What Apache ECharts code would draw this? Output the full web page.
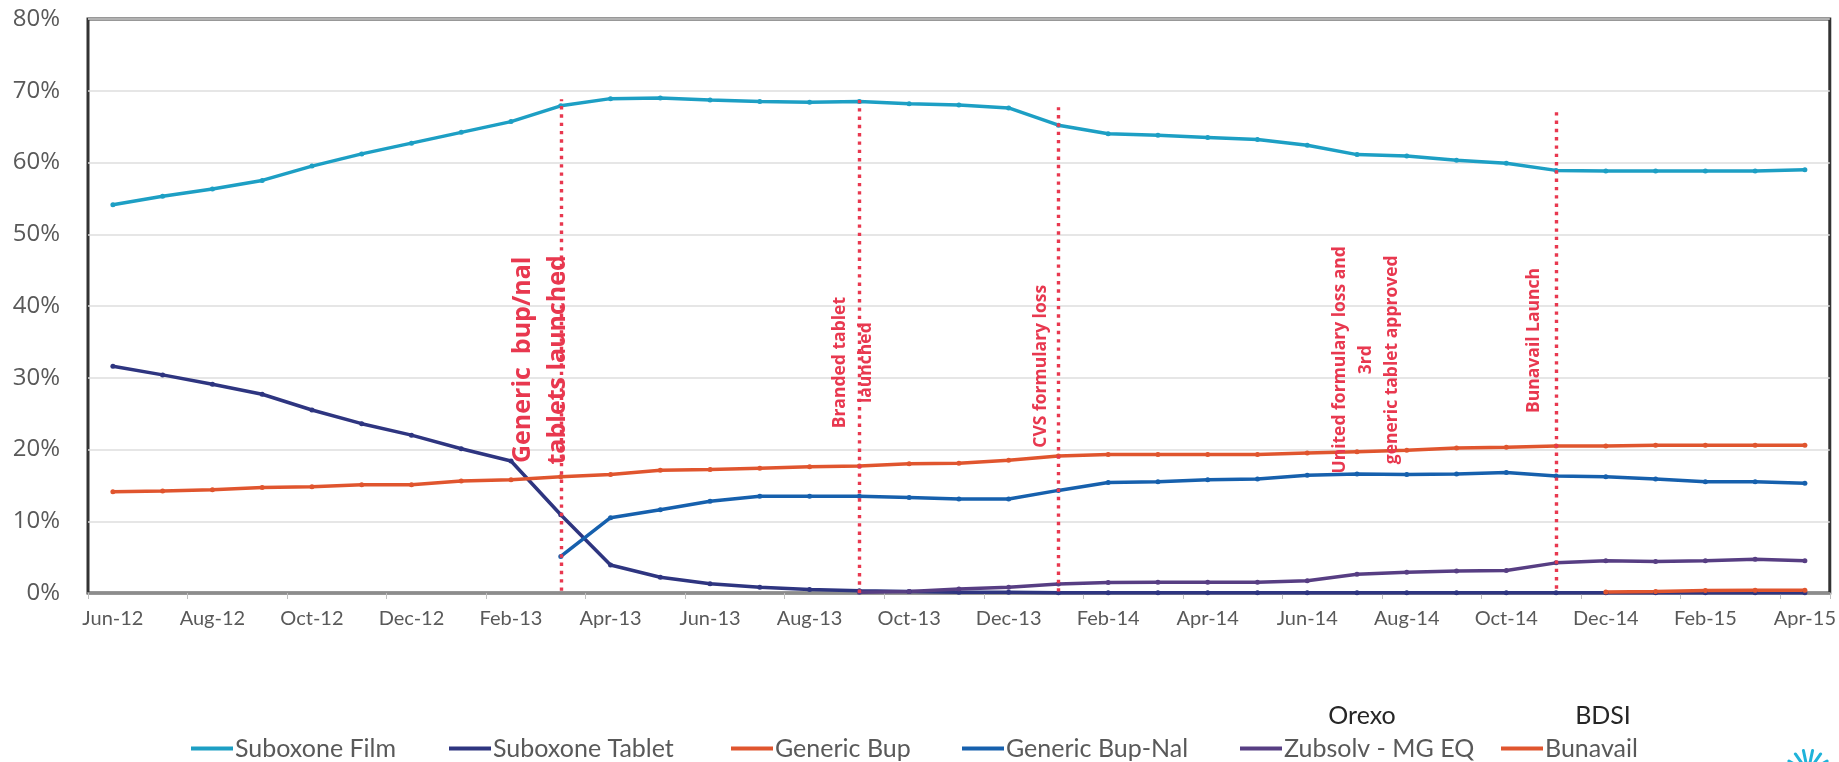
<!DOCTYPE html>
<html><head><meta charset="utf-8">
<script src="https://cdn.jsdelivr.net/npm/echarts@6/dist/echarts.min.js"></script>
<style>html,body{margin:0;padding:0;background:#fff}#c{width:1839px;height:762px}</style>
</head><body><div id="c"></div>
<script>
const categories = ['Jun-12','Jul-12','Aug-12','Sep-12','Oct-12','Nov-12','Dec-12','Jan-13','Feb-13','Mar-13','Apr-13','May-13','Jun-13','Jul-13','Aug-13','Sep-13','Oct-13','Nov-13','Dec-13','Jan-14','Feb-14','Mar-14','Apr-14','May-14','Jun-14','Jul-14','Aug-14','Sep-14','Oct-14','Nov-14','Dec-14','Jan-15','Feb-15','Mar-15','Apr-15'];
const yTickValues = [0,10,20,30,40,50,60,70,80];

const suboxoneFilm = [54.1,55.3,56.3,57.5,59.5,61.2,62.7,64.2,65.7,67.9,68.9,69.0,68.7,68.5,68.4,68.5,68.2,68.0,67.6,65.2,64.0,63.8,63.5,63.2,62.4,61.1,60.9,60.3,59.9,58.9,58.8,58.8,58.8,58.8,59.0];
const suboxoneTablet = [31.6,30.4,29.1,27.7,25.5,23.6,22.0,20.1,18.4,10.9,3.9,2.2,1.3,0.8,0.5,0.3,0.2,0.1,0.1,0.05,0.05,0.05,0.05,0.05,0.05,0.05,0.05,0.05,0.05,0.05,0.05,0.05,0.05,0.05,0.05];
const genericBup = [14.1,14.2,14.4,14.7,14.8,15.1,15.1,15.6,15.8,16.2,16.5,17.1,17.2,17.4,17.6,17.7,18.0,18.1,18.5,19.1,19.3,19.3,19.3,19.3,19.5,19.7,19.9,20.2,20.3,20.5,20.5,20.6,20.6,20.6,20.6];
const genericBupNal = [null,null,null,null,null,null,null,null,null,5.1,10.5,11.6,12.8,13.5,13.5,13.5,13.3,13.1,13.1,14.3,15.4,15.5,15.8,15.9,16.4,16.6,16.5,16.6,16.8,16.3,16.2,15.9,15.5,15.5,15.3];
const zubsolv = [null,null,null,null,null,null,null,null,null,null,null,null,null,null,null,0.1,0.2,0.55,0.8,1.25,1.45,1.5,1.5,1.5,1.7,2.6,2.9,3.05,3.15,4.2,4.5,4.4,4.5,4.7,4.5];
const bunavail = [null,null,null,null,null,null,null,null,null,null,null,null,null,null,null,null,null,null,null,null,null,null,null,null,null,null,null,null,null,null,0.15,0.2,0.35,0.4,0.4];

const seriesNames = ['Suboxone Film','Suboxone Tablet','Generic Bup','Generic Bup-Nal','Zubsolv - MG EQ','Bunavail'];
const seriesData = [suboxoneFilm, suboxoneTablet, genericBup, genericBupNal, zubsolv, bunavail];
const seriesColors = ['#1d9fc4','#2e3580','#e0552e','#1660ad','#573e83','#e0552e'];

// event marker lines
const eventCats = ['Mar-13','Sep-13','Jan-14','Jul-14','Nov-14'];
const eventTop = [68.8,68.7,67.7,66.1,67.7];
const eventBottom = [0.3,0,0.2,-1,0.6];
const eventLabels = [
  ['Generic  bup/nal','tablets launched'],
  ['Branded tablet','launched'],
  ['CVS formulary loss'],
  ['United formulary loss and','3rd','generic tablet approved'],
  ['Bunavail Launch']
];
const eventLabelY = [32.5, 32.1, 31.6, 32.5, 35.2];
const companyLabels = ['Orexo','BDSI'];

const RED = '#e8384f';
const el = document.getElementById('c');
const chart = echarts.init(el, null, {renderer:'canvas'});

const legendLeft = [191, 449, 731, 962, 1240, 1501];

const option = {
  animation:false,
  backgroundColor:'#fff',
  grid:{left:88, right:9, top:19, bottom:169, show:true, borderColor:'#333', borderWidth:3, backgroundColor:'transparent'},
  xAxis:{
    type:'category', data:categories, boundaryGap:true,
    axisLine:{show:true, lineStyle:{color:'#8c8c8c', width:2}},
    axisTick:{show:true, interval:1, alignWithLabel:false, length:6, lineStyle:{color:'#bfbfbf', width:1}},
    axisLabel:{interval:1, margin:16, color:'#595959', fontFamily:'Lato', fontSize:20},
    splitLine:{show:false}
  },
  yAxis:{
    type:'value', min:yTickValues[0], max:yTickValues[yTickValues.length-1], interval:10,
    axisLine:{show:false}, axisTick:{show:false},
    axisLabel:{formatter:'{value}%', margin:28, color:'#595959', fontFamily:'Open Sans', fontSize:24},
    splitLine:{show:true, lineStyle:{color:'#dedede', width:1.5}}
  },
  legend: seriesNames.map((n,i)=>({
    data:[{name:n, icon:'rect'}], left:legendLeft[i], top:736, itemWidth:42, itemHeight:4, itemGap:0,
    textStyle:{fontFamily:'Lato', fontSize:25, color:'#595959', padding:[0,0,0,-3]}, padding:0
  })),
  series: seriesNames.map((n,i)=>({
    name:n, type:'line', data:seriesData[i], symbol:'circle', symbolSize:5, showSymbol:true,
    connectNulls:false, clip:false,
    lineStyle:{color:seriesColors[i], width:3.5},
    itemStyle:{color:seriesColors[i]},
    z: 2
  })).concat([{
    name:'events', type:'line', data:[], clip:false, silent:true, z:5,
    markLine:{
      silent:true, symbol:['none','none'], label:{show:false}, animation:false,
      lineStyle:{color:RED, width:3.4, type:[3.4,4.9]},
      data: eventCats.map((c,k)=>[{coord:[c, eventBottom[k]]},{coord:[c, eventTop[k]]}])
    }
  }])
};
chart.setOption(option);

// annotation texts positioned from axis scales
const offsets = [[-38,-3],[-19,7],[-17],[-17,9,35],[-22]];
const fonts = [
  {fontSize:25, fontWeight:'bold'},
  {fontSize:17.5, fontWeight:'bold'},
  {fontSize:17.5, fontWeight:'bold'},
  {fontSize:17.5, fontWeight:'bold'},
  {fontSize:17.5, fontWeight:'bold'}
];
const graphics = [];
eventCats.forEach((c,k)=>{
  const px = chart.convertToPixel({gridIndex:0}, [c, eventLabelY[k]]);
  eventLabels[k].forEach((t,j)=>{
    graphics.push({
      type:'text', x:px[0]+offsets[k][j], y:px[1], rotation:Math.PI/2, z:10,
      style:{text:t, fill:RED, fontFamily:'Open Sans', fontSize:fonts[k].fontSize, fontWeight:fonts[k].fontWeight,
        textAlign:'center', textVerticalAlign:'middle'}
    });
  });
});
const companyPos = [[1362,716],[1603,716]];
companyLabels.forEach((t,i)=>{
  graphics.push({type:'text', x:companyPos[i][0], y:companyPos[i][1], z:10,
    style:{text:t, fill:'#262626', fontFamily:'Lato', fontSize:25, textAlign:'center', textVerticalAlign:'middle'}});
});
// partial logo at bottom-right corner
const logo = {type:'group', x:1808, y:772, children:[]};
[-60,-35,-12,12,35,60].forEach(a=>{
  const r = a*Math.PI/180;
  logo.children.push({type:'line', shape:{x1:Math.sin(r)*10, y1:-Math.cos(r)*10, x2:Math.sin(r)*22, y2:-Math.cos(r)*22},
    style:{stroke:'#1fb3d9', lineWidth:3, lineCap:'round'}});
});
graphics.push(logo);
chart.setOption({graphic:graphics});
</script>
</body></html>
